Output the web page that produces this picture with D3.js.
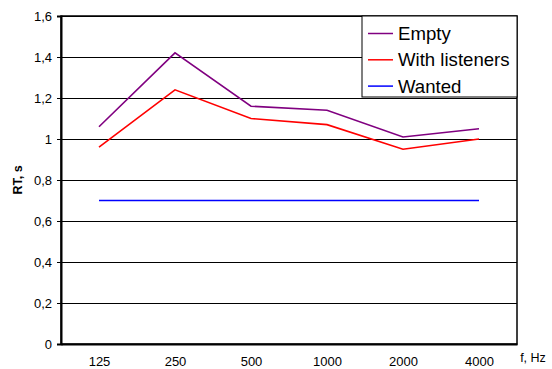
<!DOCTYPE html>
<html><head><meta charset="utf-8">
<script src="https://cdn.jsdelivr.net/npm/d3@7"></script>
<style>body{margin:0;background:#fff}svg{display:block;font-family:"Liberation Sans",Arial,sans-serif}</style>
</head><body><svg id="c" width="552" height="369"></svg>
<script>
const categories = ["125","250","500","1000","2000","4000"];
const empty = [1.06,1.42,1.16,1.14,1.01,1.05];
const withListeners = [0.96,1.24,1.10,1.07,0.95,1.00];
const wanted = [0.7,0.7,0.7,0.7,0.7,0.7];
const yTicks = [0,0.2,0.4,0.6,0.8,1,1.2,1.4,1.6];
const seriesNames = ["Empty","With listeners","Wanted"];
const colors = ["#800080","#ff0000","#0000ff"];

const svg = d3.select("#c");
const L=61,R=517,T=16,B=344;
const x = d3.scalePoint().domain(categories).range([L,R]).padding(0.5);
const y = d3.scaleLinear().domain([0,1.6]).range([B,T]);
const fmt = d => String(d).replace(".",",");
const FF = "Liberation Sans, Arial, sans-serif";

// gridlines
svg.append("g").selectAll("line").data(yTicks).join("line")
  .attr("x1",L).attr("x2",R).attr("y1",d=>Math.round(y(d))+0.5).attr("y2",d=>Math.round(y(d))+0.5)
  .attr("stroke","#000").attr("stroke-width",1);
// frame
svg.append("rect").attr("x",L).attr("y",T).attr("width",R-L).attr("height",B-T)
  .attr("fill","none").attr("stroke","#000").attr("stroke-width",1.5);

// y axis
const ya = svg.append("g").attr("transform",`translate(${L},0)`)
  .call(d3.axisLeft(y).tickValues(yTicks).tickFormat(fmt).tickSize(4).tickPadding(5));
ya.select(".domain").attr("stroke","#000").attr("stroke-width",2);
ya.selectAll("text").attr("font-size",13).attr("fill","#000").attr("font-family",FF);
ya.selectAll(".tick line").attr("stroke","#000");

// x axis
const xa = svg.append("g").attr("transform",`translate(0,${B})`)
  .call(d3.axisBottom(x).tickSize(0).tickPadding(13));
xa.select(".domain").attr("stroke","#000").attr("stroke-width",2);
xa.selectAll("text").attr("font-size",13).attr("fill","#000").attr("font-family",FF);

// axis titles
svg.append("text").attr("x",533).attr("y",362).attr("text-anchor","middle")
  .attr("font-size",12.5).text("f, Hz");
svg.append("text").attr("transform","translate(22,180) rotate(-90)").attr("text-anchor","middle")
  .attr("font-size",12.5).attr("font-weight","bold").text("RT, s");

// lines
const line = d3.line().x((d,i)=>x(categories[i])).y(d=>y(d));
[empty,withListeners,wanted].forEach((s,i)=>{
  svg.append("path").datum(s).attr("d",line).attr("fill","none")
    .attr("stroke",colors[i]).attr("stroke-width",1.6);
});

// legend
const lg = svg.append("g");
lg.append("rect").attr("x",362).attr("y",T).attr("width",R-362).attr("height",81)
  .attr("fill","#fff").attr("stroke","#000").attr("stroke-width",1);
seriesNames.forEach((n,i)=>{
  const cy = 33.5 + i*26.3;
  lg.append("line").attr("x1",368).attr("x2",393).attr("y1",cy).attr("y2",cy)
    .attr("stroke",colors[i]).attr("stroke-width",1.5);
  lg.append("text").attr("x",398).attr("y",cy+6.5).attr("font-size",18.6).text(n);
});
</script></body></html>
